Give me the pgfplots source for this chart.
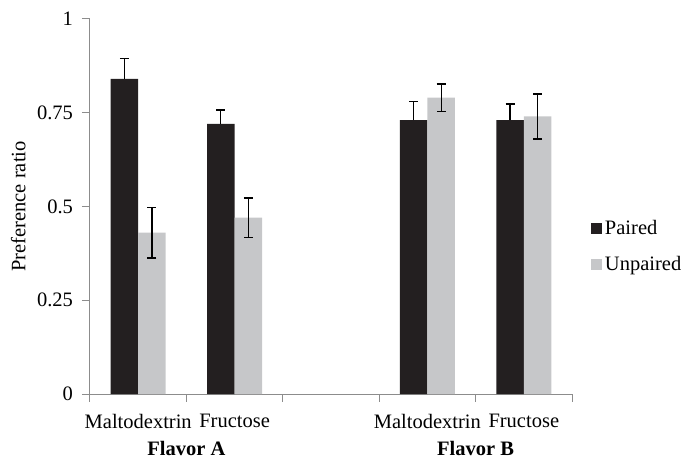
\documentclass[border=0pt]{standalone}
\usepackage{pgfplots}
\pgfplotsset{compat=1.18}
\usepackage{fontspec}
\setmainfont{Liberation Serif}
\definecolor{paired}{HTML}{231F20}
\definecolor{unpaired}{HTML}{C6C7C9}
\definecolor{axgray}{HTML}{8C8C8C}
\newcommand{\fs}{\fontsize{20.5bp}{24bp}\selectfont}
\begin{document}
\fs
\begin{tikzpicture}
\begin{axis}[
  scale only axis, width=482bp, height=375bp,
  xmin=0, xmax=5, ymin=0, ymax=1,
  axis x line=bottom, axis y line=left,
  axis line style={axgray, line width=1bp, -},
  ybar=0pt, bar width=27.5bp,
  ytick={0,0.25,0.5,0.75,1}, yticklabels={0,0.25,0.5,0.75,1},
  xtick={0,1,2,3,4,5}, xticklabels={},
  tick align=outside, major tick length=8bp,
  tick style={axgray, line width=1bp},
  /pgf/number format/assume math mode=true,
  tick label style={font=\fs, text=black},
  yticklabel style={xshift=-2bp},
  extra x ticks={0.5,1.5,3.5,4.5},
  extra x tick labels={Maltodextrin,Fructose,Maltodextrin,Fructose},
  extra x tick style={major tick length=0pt, tick label style={yshift=-13bp}},
  ylabel={Preference ratio},
  ylabel style={at={(axis description cs:-0.149,0.5)}, anchor=center, font=\fs},
  legend style={draw=none, fill=none, at={(axis description cs:1.039,0.393)}, anchor=west,
    inner sep=0pt, row sep=19bp, font=\fs,
    nodes={inner xsep=3bp, inner ysep=0pt}},
  legend cell align=left,
  legend image code/.code={\fill[#1] (0bp,-5.5bp) rectangle (11bp,5.5bp);},
  clip=false,
]
\addplot[fill=paired, draw=none,
  error bars/.cd, y dir=plus, y explicit,
  error bar style={black, line width=1.3bp},
  error mark options={rotate=90, mark size=4.5bp, black, line width=1.3bp}]
  coordinates {(0.5,0.84) +- (0,0.055) (1.5,0.72) +- (0,0.037) (3.5,0.73) +- (0,0.05) (4.5,0.73) +- (0,0.043)};
\addlegendentry{Paired}
\addplot[fill=unpaired, draw=none,
  error bars/.cd, y dir=both, y explicit,
  error bar style={black, line width=1.3bp},
  error mark options={rotate=90, mark size=4.5bp, black, line width=1.3bp}]
  coordinates {(0.5,0.43) +- (0,0.067) (1.5,0.47) +- (0,0.053) (3.5,0.79) +- (0,0.037) (4.5,0.74) +- (0,0.06)};
\addlegendentry{Unpaired}
\node[font=\bfseries\fs] at ([yshift=-54bp]axis cs:1,0) {Flavor A};
\node[font=\bfseries\fs] at ([yshift=-54bp]axis cs:4,0) {Flavor B};
\end{axis}
\pgfresetboundingbox
\path (current axis.south west) ++(-90bp,-64bp) rectangle ++(681bp,458bp);
\end{tikzpicture}
\end{document}
